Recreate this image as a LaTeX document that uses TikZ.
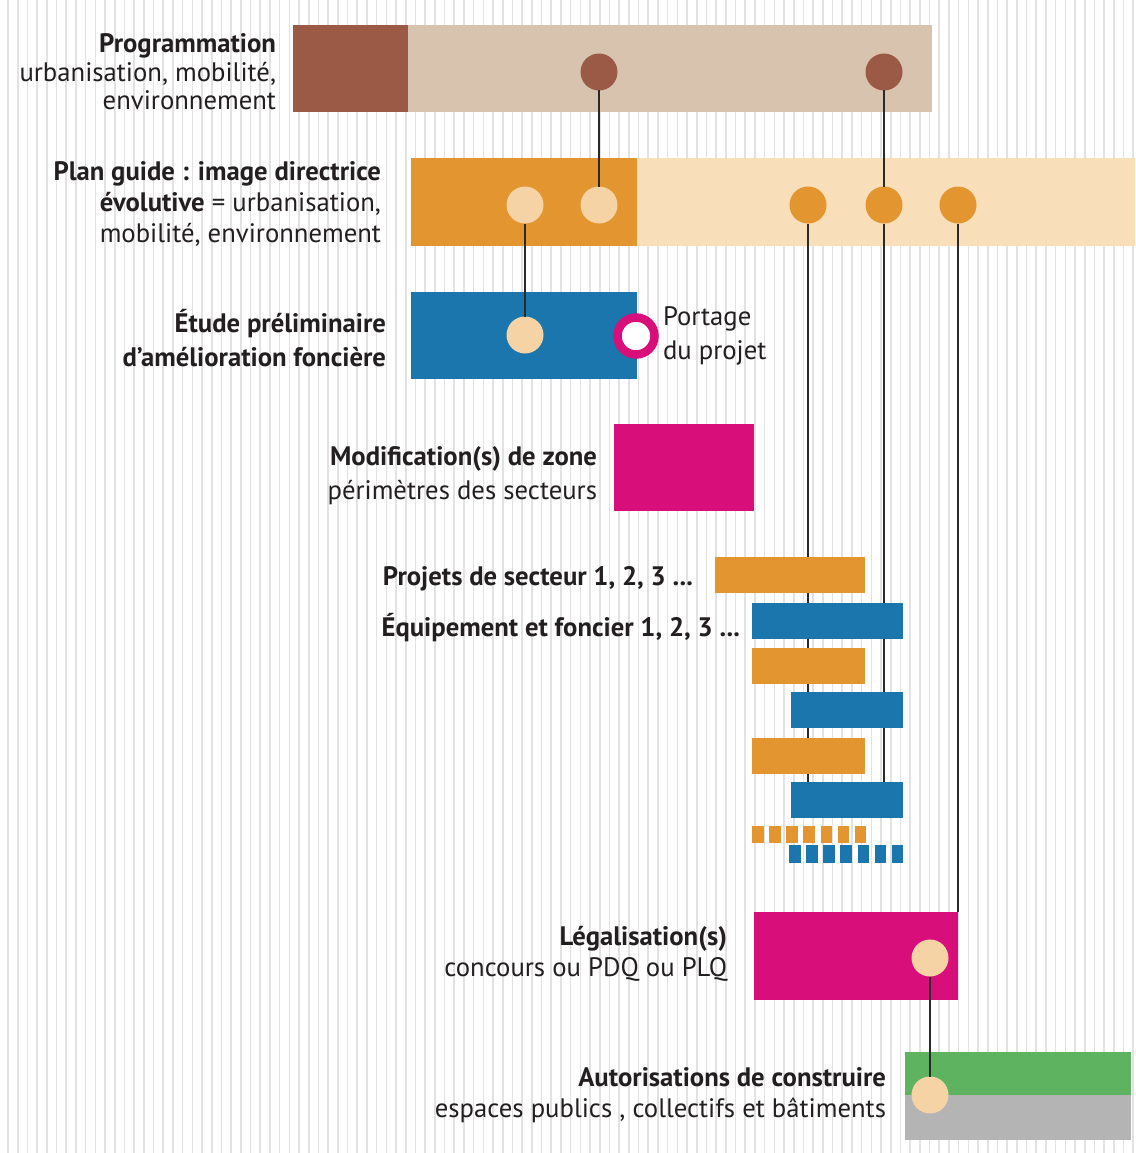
\documentclass[tikz,border=0pt]{standalone}
\usepackage{fontspec}
\setmainfont{PT Sans}
\definecolor{brownD}{HTML}{9B5A45}
\definecolor{brownL}{HTML}{D8C3AF}
\definecolor{orangeD}{HTML}{E39530}
\definecolor{orangeL}{HTML}{F8DEB9}
\definecolor{peach}{HTML}{F6D3A4}
\definecolor{blueB}{HTML}{1A76AD}
\definecolor{magentaM}{HTML}{D80F7B}
\definecolor{greenG}{HTML}{5EB360}
\definecolor{grayG}{HTML}{B4B4B4}
\definecolor{linec}{HTML}{2A2A2A}
\definecolor{txt}{HTML}{231F20}
\definecolor{stripec}{HTML}{E2E2E2}
\begin{document}
\begin{tikzpicture}[x=1pt,y=-1pt,
  bar/.style={rectangle,inner sep=0,outer sep=0,draw=none,anchor=north west},
  dot/.style={circle,inner sep=0,outer sep=0,minimum size=37pt,draw=none},
  ring/.style={circle,inner sep=0,outer sep=0,minimum size=37pt,draw=magentaM,line width=8.5pt,fill=white},
  link/.style={draw=linec,line width=2.6pt},
  lbl/.style={inner sep=0,outer sep=0,text=txt,font=\fontsize{26.7}{31}\selectfont},
  stripe/.style={draw=stripec,line width=1.6pt}]
\useasboundingbox (0,0) rectangle (1135,1153);
\fill[white] (0,0) rectangle (1135,1153);
\foreach \i in {0,...,116} \draw[stripe] ({8+\i*9.7},0) -- ++(0,1153);

% top bars
\node[bar,fill=brownD,minimum width=115pt,minimum height=87pt] (progD) at (293,25) {};
\node[bar,fill=brownL,minimum width=524pt,minimum height=87pt] (progL) at (408,25) {};
\node[bar,fill=orangeD,minimum width=226pt,minimum height=88pt] (planD) at (411,158) {};
\node[bar,fill=orangeL,minimum width=498pt,minimum height=88pt] (planL) at (637,158) {};
\node[bar,fill=blueB,minimum width=226pt,minimum height=87pt] (etude) at (411,292) {};
\node[bar,fill=magentaM,minimum width=140pt,minimum height=87pt] (modif) at (614,424) {};
\node[bar,fill=magentaM,minimum width=204pt,minimum height=88pt] (leg) at (754,912) {};
\node[bar,fill=greenG,minimum width=226pt,minimum height=43pt] (autA) at (905,1052) {};
\node[bar,fill=grayG,minimum width=226pt,minimum height=45pt] (autB) at (905,1095) {};

% dots
\node[dot,fill=brownD] (p1) at (599,72) {};
\node[dot,fill=brownD] (p2) at (884,72) {};
\node[dot,fill=peach] (g1) at (525,205) {};
\node[dot,fill=peach] (g2) at (599,205) {};
\node[dot,fill=orangeD] (g3) at (808,205) {};
\node[dot,fill=orangeD] (g4) at (884,205) {};
\node[dot,fill=orangeD] (g5) at (958,205) {};
\node[dot,fill=peach] (e1) at (525,335) {};
\node[ring] (port) at (636,336) {};
\node[dot,fill=peach] (l1) at (930,958) {};
\node[dot,fill=peach] (a1) at (930,1095) {};
\coordinate (end3) at (808,800);
\coordinate (end4) at (884,800);

% connectors
\draw[link] (p1) -- (g2);
\draw[link] (g1) -- (e1);
\draw[link] (p2) -- (g4);
\draw[link] (g4) -- (end4);
\draw[link] (g3) -- (end3);
\draw[link] (g5) -- (leg.north east);
\draw[link] (l1) -- (a1);

% sector bars
\node[bar,fill=orangeD,minimum width=150pt,minimum height=36pt] (pr1) at (715,557) {};
\node[bar,fill=blueB,minimum width=151pt,minimum height=36pt] (eq1) at (752,603) {};
\node[bar,fill=orangeD,minimum width=113pt,minimum height=36pt] (pr2) at (752,648) {};
\node[bar,fill=blueB,minimum width=112pt,minimum height=36pt] (eq2) at (791,692) {};
\node[bar,fill=orangeD,minimum width=113pt,minimum height=36pt] (pr3) at (752,738) {};
\node[bar,fill=blueB,minimum width=112pt,minimum height=36pt] (eq3) at (791,782) {};
\foreach \i in {0,...,6} {
  \node[bar,fill=orangeD,minimum width=11.5pt,minimum height=17pt] (so\i) at ({752+\i*17.15},826) {};
  \node[bar,fill=blueB,minimum width=11.5pt,minimum height=18pt] (sb\i) at ({789+\i*17.15},845) {};
}

% labels
\node[lbl,anchor=east,align=right,font=\fontsize{26.7}{28.5}\selectfont] (tprog) at (276,72)
  {\textbf{Programmation}\\urbanisation, mobilité,\\environnement};
\node[lbl,anchor=east,align=right] (tplan) at (381,204)
  {\textbf{Plan guide : image directrice}\\\textbf{évolutive} = urbanisation,\\mobilité, environnement};
\node[lbl,anchor=east,align=right,font=\fontsize{26.7}{34}\selectfont] (tetude) at (386,338)
  {\textbf{Étude préliminaire}\\\textbf{d'amélioration foncière}};
\node[lbl,anchor=west,align=left,font=\fontsize{26.7}{34}\selectfont] (tport) at (663,336)
  {Portage\\du projet};
\node[lbl,anchor=east,align=right,font=\fontsize{26.7}{34}\selectfont] (tmodif) at (597,476)
  {\textbf{Modification(s) de zone}\\périmètres des secteurs};
\node[lbl,anchor=east] (tproj) at (693,579) {\textbf{Projets de secteur 1, 2, 3 ...}};
\node[lbl,anchor=east] (tequi) at (740,628) {\textbf{Équipement et foncier 1, 2, 3 ...}};
\node[lbl,anchor=east,align=right] (tleg) at (727,954)
  {\textbf{Légalisation(s)}\\concours ou PDQ ou PLQ};
\node[lbl,anchor=east,align=right] (taut) at (886,1095)
  {\textbf{Autorisations de construire}\\espaces publics , collectifs et bâtiments};
\end{tikzpicture}
\end{document}
